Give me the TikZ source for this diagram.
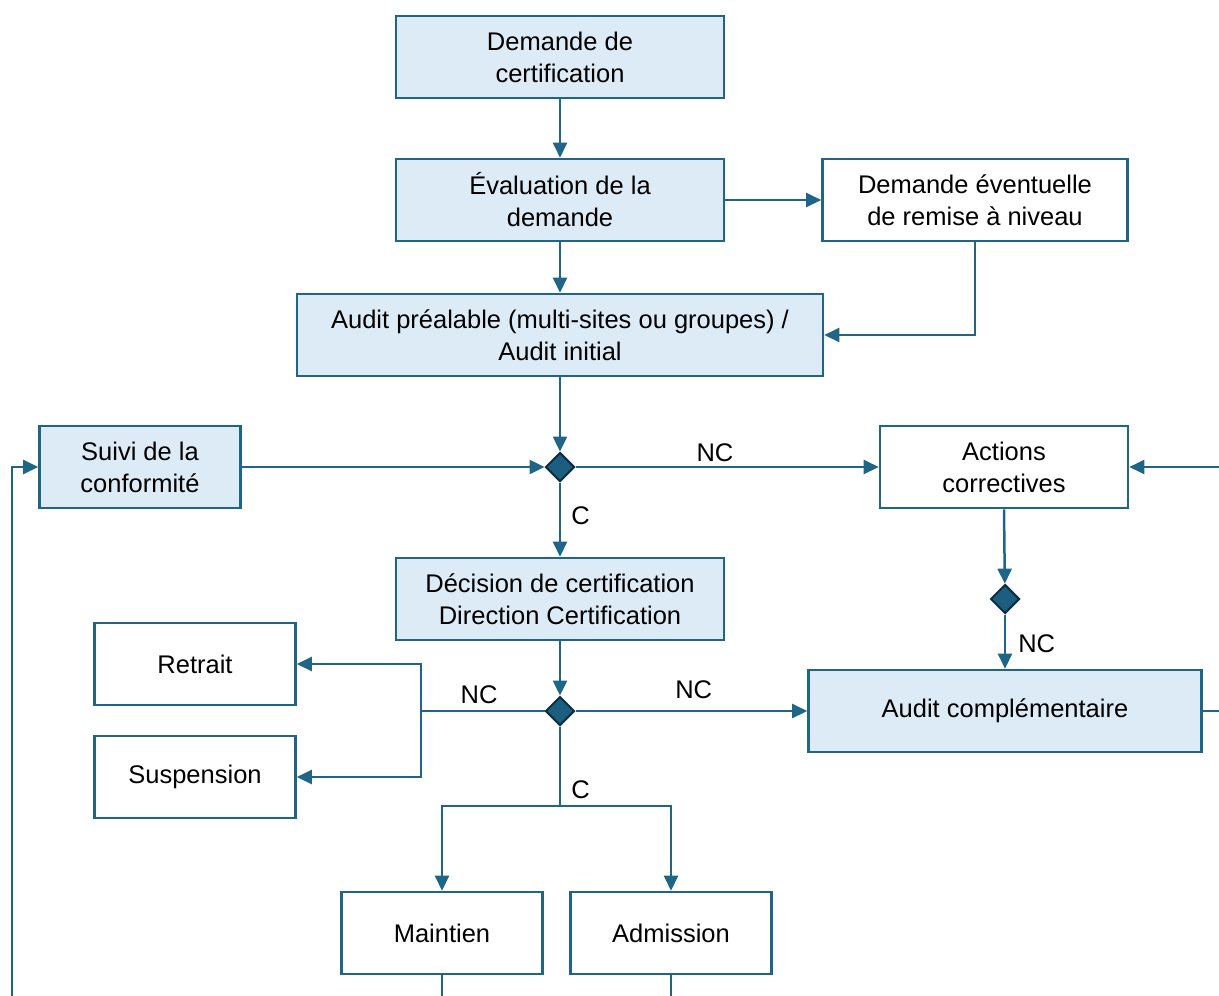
\documentclass[tikz,border=0pt]{standalone}
\usepackage{fontspec}
\setmainfont{Liberation Sans}
\usetikzlibrary{arrows.meta,shapes.geometric}
\definecolor{flowblue}{HTML}{1F6587}
\definecolor{boxfill}{HTML}{DDEBF7}
\definecolor{gatefill}{HTML}{1B5E80}
\definecolor{gateline}{HTML}{0D2F40}
\begin{document}
\begin{tikzpicture}[x=1pt, y=-1pt,
    font=\fontsize{25.5}{32}\selectfont,
    process/.style={rectangle, draw=flowblue, line width=2.6pt, fill=boxfill, align=center, inner sep=0pt, minimum height=82pt},
    outcome/.style={process, fill=white},
    gate/.style={diamond, draw=gateline, line width=2pt, fill=gatefill, minimum size=29pt, inner sep=0pt},
    flow/.style={draw=flowblue, line width=2.5pt, -{Triangle[length=15pt,width=14pt]}},
    line/.style={draw=flowblue, line width=2.5pt},
    lbl/.style={inner sep=1pt}]
    \useasboundingbox (0,0) rectangle (1219,996);

    % Demande
    \node[process, minimum width=328pt] (demande) at (560,57) {Demande de\\certification};

    % Evaluation
    \node[process, minimum width=328pt] (eval) at (560,200) {Évaluation de la\\demande};

    % Remise a niveau
    \node[outcome, minimum width=305pt] (remise) at (975,200) {Demande éventuelle\\de remise à niveau};

    % Audit prealable
    \node[process, minimum width=526pt] (prealable) at (560,335) {Audit préalable (multi-sites ou groupes) /\\Audit initial};

    % Suivi
    \node[process, minimum width=201pt] (suivi) at (140,467) {Suivi de la\\conformité};

    % Actions correctives
    \node[outcome, minimum width=248pt] (actions) at (1004,467) {Actions\\correctives};

    % Decision
    \node[process, minimum width=328pt] (decision) at (560,599) {Décision de certification\\Direction Certification};

    % Retrait / Suspension
    \node[outcome, minimum width=201pt] (retrait) at (195,664) {Retrait};
    \node[outcome, minimum width=201pt] (suspension) at (195,777) {Suspension};

    % Audit complementaire
    \node[process, minimum width=393pt] (complement) at (1005,711) {Audit complémentaire};

    % Maintien / Admission
    \node[outcome, minimum width=201pt] (maintien) at (442,933) {Maintien};
    \node[outcome, minimum width=201pt] (admission) at (671,933) {Admission};

    % Gates
    \node[gate] (gatea) at (560,467) {};
    \node[gate] (gateb) at (1005,599) {};
    \node[gate] (gatec) at (560,711) {};

    % Free ends
    \coordinate (retour) at (12,996);
    \coordinate (retourhaut) at (1219,467);
    \coordinate (sortie) at (1219,711);
    \coordinate (maintienbas) at (442,996);
    \coordinate (admissionbas) at (671,996);
    \coordinate (branche) at (421,711);
    \coordinate (fourche) at (560,806);

    % Connections
    \draw[flow] (demande) -- (eval);
    \draw[flow] (eval) -- (remise);
    \draw[flow] (eval) -- (prealable);
    \draw[flow] (remise.south) |- (prealable.east);
    \draw[flow] (prealable) -- (gatea);
    \draw[flow] (suivi) -- (gatea);
    \draw[flow] (gatea) -- node[lbl, above=3pt, pos=0.46] {NC} (actions);
    \draw[flow] (gatea) -- node[lbl, right=9pt, pos=0.45] {C} (decision);
    \draw[flow] (retourhaut) -- (actions);
    \draw[flow] (actions.south) -- (gateb);
    \draw[flow] (gateb) -- node[lbl, right=11pt, pos=0.54] {NC} (complement);
    \draw[line] (complement) -- (sortie);
    \draw[flow] (decision) -- (gatec);
    \draw[flow] (gatec) -- node[lbl, above=10pt, pos=0.51] {NC} (complement);
    \draw[line] (gatec) -- node[lbl, above=5pt, pos=0.53] {NC} (branche);
    \draw[flow] (branche) |- (retrait);
    \draw[flow] (branche) |- (suspension);
    \draw[line] (gatec) -- node[lbl, right=9pt, pos=0.79] {C} (fourche);
    \draw[flow] (fourche) -| (maintien);
    \draw[flow] (fourche) -| (admission);
    \draw[line] (maintien) -- (maintienbas);
    \draw[line] (admission) -- (admissionbas);
    \draw[flow] (retour) |- (suivi);
\end{tikzpicture}
\end{document}
